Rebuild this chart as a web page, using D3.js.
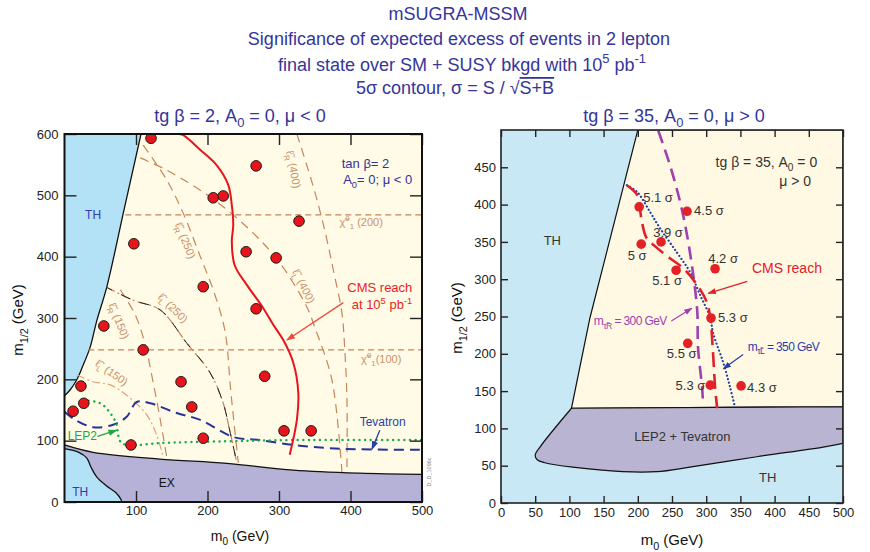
<!DOCTYPE html>
<html><head><meta charset="utf-8">
<script src="https://cdn.jsdelivr.net/npm/d3@7"></script>
<style>
body{margin:0;background:#fff}
text{font-family:"Liberation Sans",Arial,Helvetica,sans-serif}
</style>
</head><body>
<svg id="chart" width="870" height="552"></svg>
<script>
// ---------- data: left panel (tan beta = 2, A0 = 0, mu < 0) ----------
const leftXTicks = [100, 200, 300, 400, 500];
const leftYTicks = [0, 100, 200, 300, 400, 500, 600];
const leftDots = [[121,593],[268,548],[208,496],[222,499],[328,458],[97,421],[254,408],[296,398],
  [194,351],[268,315],[55,287],[110,248],[280,205],[163,196],[23,189],[178,155],[27,161],[12,148],
  [307,116],[345,116],[194,104],[93,93]];
const leftTHBoundary = [[107,600],[83,475],[59,350],[45,295],[36,253],[25,220],[17,199],[8,183],[0,173]];
const leftEXTop = [[0,93],[40,81],[133,70],[227,63],[320,52],[413,47],[500,45]];
const leftTHBottom = [[0,87],[20,81],[31,72],[37,57],[45,41],[58,27],[72,15],[79,4],[80,0]];
const cmsReachLeft = [[159,600],[166,598],[190,574],[213,549],[229,517],[234,484],[236,452],[234,424],
  [238,386],[255,354],[278,316],[292,289],[306,264],[320,227],[327,178],[325,134],[315,77]];
const tevatron = [[0,147],[15,134],[40,122],[68,126],[87,139],[101,163],[120,161],[157,145],[190,134],
  [236,106],[273,101],[320,93],[367,88],[413,86],[500,85]];
const lep2 = [[26,166],[50,161],[64,145],[73,126],[75,109],[80,96],[99,93],[134,96],[227,99],[320,101],[500,101]];
const chi200 = [[85,468],[500,468]];
const chi100 = [[33,248],[500,248]];
const slepR400 = [[325,600],[348,514],[364,443],[376,378],[388,308],[392,248],[395,171],[395,49]];
const slepL400 = [[106,561],[143,541],[204,497],[259,444],[301,390],[339,318],[350,285],[374,199],[388,49]];
const slepR250 = [[110,582],[143,525],[166,471],[190,400],[208,346],[222,292],[227,259],[232,188],[243,64]];
const slepR150 = [[78,346],[99,305],[113,256],[122,207],[134,134],[143,73]];
const slepL250 = [[59,350],[96,329],[134,313],[171,259],[204,210],[222,161],[231,117],[241,64]];
const slepL150 = [[18,207],[40,196],[64,191],[87,174],[115,142],[129,109],[138,73]];

// ---------- data: right panel (tan beta = 35, A0 = 0, mu > 0) ----------
const rightXTicks = [0, 50, 100, 150, 200, 250, 300, 350, 400, 450, 500];
const rightYTicks = [0, 50, 100, 150, 200, 250, 300, 350, 400, 450];
const rightDots = [[202,397],[272,391],[205,347],[234,350],[256,312],[313,314],[307,248],[273,214],[306,158],[351,157]];
const rightSignif = ["5.1","4.5","5","3.9","5.1","4.2","5.3","5.5","5.3","4.3"];
const rightAllowed = [[200,500],[130,248],[103,127],[500,129],[500,500]];
const lepTevBottom = [[500,80],[471,75],[374,62],[276,48],[228,42],[178,42],[105,48],[64,54],[53,58],[50,64],[57,75],[103,127]];
const stauR300 = [[230,499],[247,453],[262,403],[272,359],[281,306],[287,256],[288,209],[294,155],[295,140]];
const stauL350 = [[184,426],[199,417],[218,390],[232,369],[257,336],[276,310],[291,279],[306,248],[310,228],[325,188],[335,155],[342,129]];
const cmsReachRight = [[184,426],[199,413],[203,395],[206,377],[213,355],[228,342],[247,328],[266,315],[287,292],
  [301,269],[306,248],[310,201],[313,155],[316,127]];

// label placement for the significance values (pixel offsets from each dot)
const signifOffsets = [[4,-5,"start"],[7,4,"start"],[-4,16,"middle"],[7,-5,"middle"],[-9,15,"middle"],
  [8,-6,"middle"],[7,4,"start"],[-6,15,"middle"],[-5,5,"end"],[6,6,"start"]];

const svg = d3.select("#chart");
const TITLE = "#35359b";
const BROWN = "#c8845a";
const BROWN_TXT = "#c9916c";

// rich text helper: parts are strings or [text, "sup"|"sub"]
function rich(parent, x, y, parts, size, fill, anchor) {
  const t = parent.append("text").attr("x", x).attr("y", y).attr("font-size", size)
    .attr("fill", fill).attr("text-anchor", anchor || "middle");
  let cur = 0;
  parts.forEach(p => {
    const [s, mode] = Array.isArray(p) ? p : [p, "n"];
    const target = mode === "sup" ? -0.42 * size : mode === "sub" ? 0.3 * size : 0;
    const ts = t.append("tspan").text(s).attr("dy", target - cur);
    if (mode !== "n") ts.attr("font-size", size * 0.72);
    cur = target;
  });
  return t;
}

const defs = svg.append("defs");
function marker(id, color) {
  defs.append("marker").attr("id", id).attr("viewBox", "0 0 10 10").attr("refX", 9).attr("refY", 5)
    .attr("markerWidth", 7).attr("markerHeight", 7).attr("orient", "auto-start-reverse")
    .append("path").attr("d", "M0,1.5 L10,5 L0,8.5 Z").attr("fill", color);
}
marker("arRed", "#ee4a3a");
marker("arBlue", "#2b3ea8");
marker("arGreen", "#1aa84a");
marker("arPurple", "#a040b0");
marker("arRed2", "#e0202a");

// ---------- titles ----------
svg.append("text").attr("x", 458).attr("y", 20).attr("text-anchor", "middle").attr("font-size", 18)
  .attr("fill", TITLE).text("mSUGRA-MSSM");
svg.append("text").attr("x", 459).attr("y", 45).attr("text-anchor", "middle").attr("font-size", 18)
  .attr("fill", TITLE).text("Significance of expected excess of events in 2 lepton");
rich(svg, 462, 71, ["final state over SM + SUSY bkgd with 10", ["5","sup"], " pb", ["-1","sup"]], 18, TITLE);
const t4 = svg.append("text").attr("x", 455).attr("y", 94).attr("text-anchor", "middle")
  .attr("font-size", 18).attr("fill", TITLE);
t4.append("tspan").text("5σ contour, σ = S / √");
t4.append("tspan").text("S+B").style("text-decoration", "overline");

rich(svg, 240, 122, ["tg β = 2, A", ["0","sub"], " = 0, μ < 0"], 18, TITLE);
rich(svg, 674, 122, ["tg β = 35, A", ["0","sub"], " = 0, μ > 0"], 18, TITLE);

// ================= LEFT PANEL =================
const xL = d3.scaleLinear([0, 500], [64.5, 422]);
const yL = d3.scaleLinear([0, 600], [502, 134]);
const gL = svg.append("g");
defs.append("clipPath").attr("id", "clipL").append("rect")
  .attr("x", xL(0)).attr("y", yL(600)).attr("width", xL(500) - xL(0)).attr("height", yL(0) - yL(600));
const pL = gL.append("g").attr("clip-path", "url(#clipL)");
const lineL = d3.line().curve(d3.curveCatmullRom.alpha(0.5)).x(d => xL(d[0])).y(d => yL(d[1]));
const straightL = d3.line().x(d => xL(d[0])).y(d => yL(d[1]));

pL.append("rect").attr("x", xL(0)).attr("y", yL(600)).attr("width", xL(500) - xL(0))
  .attr("height", yL(0) - yL(600)).attr("fill", "#fffbe6");
// theoretically excluded region, upper left
pL.append("path").attr("d", lineL(leftTHBoundary) + `L${xL(0)},${yL(600)}Z`)
  .attr("fill", "#b3e1f6").attr("stroke", "none");
pL.append("path").attr("d", lineL(leftTHBoundary)).attr("fill", "none").attr("stroke", "#111").attr("stroke-width", 1.3);
// experimentally excluded band
pL.append("path").attr("d", lineL(leftEXTop) + `L${xL(500)},${yL(0)}L${xL(0)},${yL(0)}Z`)
  .attr("fill", "#b6b2d7");
pL.append("path").attr("d", lineL(leftEXTop)).attr("fill", "none").attr("stroke", "#111").attr("stroke-width", 1.3);
// theoretically excluded region, lower left
pL.append("path").attr("d", lineL(leftTHBottom) + `L${xL(0)},${yL(0)}Z`).attr("fill", "#b3e1f6");
pL.append("path").attr("d", lineL(leftTHBottom)).attr("fill", "none").attr("stroke", "#111").attr("stroke-width", 1.3);

// iso-mass contours
[chi200, chi100].forEach(d => pL.append("path").attr("d", straightL(d)).attr("fill", "none")
  .attr("stroke", BROWN).attr("stroke-width", 1.3).attr("stroke-dasharray", "6,4"));
[slepR400, slepL400, slepR250, slepR150].forEach(d => pL.append("path").attr("d", lineL(d))
  .attr("fill", "none").attr("stroke", BROWN).attr("stroke-width", 1.2).attr("stroke-dasharray", "9,6"));
pL.append("path").attr("d", lineL(slepL250)).attr("fill", "none").attr("stroke", BROWN)
  .attr("stroke-width", 1.2).attr("stroke-dasharray", "9,3,2,3");
pL.append("path").attr("d", lineL(slepL250)).attr("fill", "none").attr("stroke", "#222")
  .attr("stroke-width", 1).attr("stroke-dasharray", "10,10").attr("stroke-dashoffset", 4);
pL.append("path").attr("d", lineL(slepL150)).attr("fill", "none").attr("stroke", "#e0a07a")
  .attr("stroke-width", 1.2).attr("stroke-dasharray", "8,3,2,3");

// Tevatron and LEP2 limits
pL.append("path").attr("d", lineL(tevatron)).attr("fill", "none").attr("stroke", "#27329a")
  .attr("stroke-width", 2).attr("stroke-dasharray", "10,6");
pL.append("path").attr("d", lineL(lep2)).attr("fill", "none").attr("stroke", "#1bab4c")
  .attr("stroke-width", 2.4).attr("stroke-dasharray", "0.1,5.5").attr("stroke-linecap", "round");

// CMS 5 sigma reach
pL.append("path").attr("d", lineL(cmsReachLeft)).attr("fill", "none").attr("stroke", "#e8141c")
  .attr("stroke-width", 2);

// simulated points
pL.selectAll("circle.pt").data(leftDots).join("circle").attr("class", "pt")
  .attr("cx", d => xL(d[0])).attr("cy", d => yL(d[1])).attr("r", 5.3)
  .attr("fill", "#e8141c").attr("stroke", "#1a1a1a").attr("stroke-width", 1);

// contour labels
function rotLabel(parent, x, y, angle, parts, size, fill) {
  const g = parent.append("g").attr("transform", `translate(${x},${y}) rotate(${angle})`);
  rich(g, 0, 0, parts, size, fill);
}
rotLabel(pL, xL(315), yL(541), 79, ["ℓ̃", ["R","sub"], " (400)"], 11, BROWN_TXT);
rotLabel(pL, xL(330), yL(349), 63, ["ℓ̃", ["L","sub"], " (400)"], 11, BROWN_TXT);
rotLabel(pL, xL(164), yL(424), 68, ["ℓ̃", ["R","sub"], " (250)"], 11, BROWN_TXT);
rotLabel(pL, xL(148), yL(312), 45, ["ℓ̃", ["L","sub"], " (250)"], 11, BROWN_TXT);
rotLabel(pL, xL(71), yL(293), 68, ["ℓ̃", ["R","sub"], " (150)"], 11, BROWN_TXT);
rotLabel(pL, xL(63), yL(206), 35, ["ℓ̃", ["L","sub"], " (150)"], 11, BROWN_TXT);
rich(pL, xL(415), yL(450), ["χ̃", ["0","sup"], ["1","sub"], " (200)"], 11, BROWN_TXT);
rich(pL, xL(443), yL(227), ["χ̃", ["0","sup"], ["1","sub"], "(100)"], 11, BROWN_TXT);

pL.append("text").attr("x", xL(421)).attr("y", yL(545)).attr("text-anchor", "middle")
  .attr("font-size", 13).attr("fill", "#33339a").text("tan β= 2");
rich(pL, xL(438), yL(518), ["A", ["0","sub"], "= 0; μ < 0"], 13, "#33339a");
pL.append("text").attr("x", xL(40)).attr("y", yL(462)).attr("text-anchor", "middle")
  .attr("font-size", 12).attr("fill", "#3a3aa8").text("TH");
pL.append("text").attr("x", xL(22)).attr("y", yL(9)).attr("text-anchor", "middle")
  .attr("font-size", 12).attr("fill", "#3a3aa8").text("TH");
pL.append("text").attr("x", xL(143)).attr("y", yL(25)).attr("text-anchor", "middle")
  .attr("font-size", 12).attr("fill", "#111").text("EX");

pL.append("text").attr("x", xL(441)).attr("y", yL(343)).attr("text-anchor", "middle")
  .attr("font-size", 13).attr("fill", "#ee2222").text("CMS reach");
rich(pL, xL(444), yL(314), ["at 10", ["5","sup"], " pb", ["-1","sup"]], 13, "#ee2222");
pL.append("line").attr("x1", xL(390)).attr("y1", yL(325)).attr("x2", xL(311)).attr("y2", yL(264))
  .attr("stroke", "#ee4a3a").attr("stroke-width", 1.3).attr("marker-end", "url(#arRed)");

pL.append("text").attr("x", xL(445)).attr("y", yL(124)).attr("text-anchor", "middle")
  .attr("font-size", 12).attr("fill", "#2b3ea8").text("Tevatron");
pL.append("line").attr("x1", xL(441)).attr("y1", yL(117)).attr("x2", xL(430)).attr("y2", yL(86))
  .attr("stroke", "#2b3ea8").attr("stroke-width", 1.3).attr("marker-end", "url(#arBlue)");
pL.append("text").attr("x", xL(25)).attr("y", yL(101)).attr("text-anchor", "middle")
  .attr("font-size", 12).attr("fill", "#1aa84a").text("LEP2");
pL.append("line").attr("x1", xL(46)).attr("y1", yL(107)).attr("x2", xL(73)).attr("y2", yL(117))
  .attr("stroke", "#1aa84a").attr("stroke-width", 1.3).attr("marker-end", "url(#arGreen)");

// axes and frame
function styleAxis(g, size) {
  g.select(".domain").remove();
  g.selectAll(".tick line").attr("stroke", "#222").attr("stroke-width", 1.4);
  g.selectAll(".tick text").attr("font-size", size).attr("fill", "#222")
    .attr("font-family", '"Liberation Sans",Arial,sans-serif');
}
gL.append("g").attr("transform", `translate(0,${yL(0)})`)
  .call(d3.axisBottom(xL).tickValues(leftXTicks).tickSize(-11).tickPadding(4)).call(g => styleAxis(g, 13));
gL.append("g").attr("transform", `translate(0,${yL(600)})`)
  .call(d3.axisTop(xL).tickValues(leftXTicks).tickSize(-11).tickFormat("")).call(g => styleAxis(g, 13));
gL.append("g").attr("transform", `translate(${xL(0)},0)`)
  .call(d3.axisLeft(yL).tickValues(leftYTicks).tickSize(-12).tickPadding(6)).call(g => styleAxis(g, 13));
gL.append("g").attr("transform", `translate(${xL(500)},0)`)
  .call(d3.axisRight(yL).tickValues(leftYTicks).tickSize(-12).tickFormat("")).call(g => styleAxis(g, 13));
gL.append("rect").attr("x", xL(0)).attr("y", yL(600)).attr("width", xL(500) - xL(0))
  .attr("height", yL(0) - yL(600)).attr("fill", "none").attr("stroke", "#111").attr("stroke-width", 2);

rich(svg, 240, 541, ["m", ["0","sub"], " (GeV)"], 14, "#111");
const ylL = svg.append("g").attr("transform", "translate(23,320) rotate(-90)");
rich(ylL, 0, 0, ["m", ["1/2","sub"], " (GeV)"], 15, "#111");
svg.append("text").attr("transform", "translate(431,472) rotate(-90)").attr("text-anchor", "middle")
  .attr("font-size", 5.5).attr("fill", "#888").text("D_D_1096c");

// ================= RIGHT PANEL =================
const xR = d3.scaleLinear([0, 500], [501, 843]);
const yR = d3.scaleLinear([0, 500], [503, 130]);
const gR = svg.append("g");
defs.append("clipPath").attr("id", "clipR").append("rect")
  .attr("x", xR(0)).attr("y", yR(500)).attr("width", xR(500) - xR(0)).attr("height", yR(0) - yR(500));
const pR = gR.append("g").attr("clip-path", "url(#clipR)");
const lineR = d3.line().curve(d3.curveCatmullRom.alpha(0.5)).x(d => xR(d[0])).y(d => yR(d[1]));
const straightR = d3.line().x(d => xR(d[0])).y(d => yR(d[1]));

pR.append("rect").attr("x", xR(0)).attr("y", yR(500)).attr("width", xR(500) - xR(0))
  .attr("height", yR(0) - yR(500)).attr("fill", "#c9e8f6");
pR.append("path").attr("d", straightR(rightAllowed) + "Z").attr("fill", "#fff9e3")
  .attr("stroke", "#111").attr("stroke-width", 1.2);
pR.append("path").attr("d", `M${xR(103)},${yR(127)}L${xR(500)},${yR(129)}` + lineR(lepTevBottom).replace(/^M/, "L") + "Z")
  .attr("fill", "#b9b4d1").attr("stroke", "#111").attr("stroke-width", 1.2);

pR.append("path").attr("d", lineR(stauR300)).attr("fill", "none").attr("stroke", "#a040b0")
  .attr("stroke-width", 2.6).attr("stroke-dasharray", "13,7");
pR.append("path").attr("d", lineR(stauL350)).attr("fill", "none").attr("stroke", "#2040a8")
  .attr("stroke-width", 2.2).attr("stroke-dasharray", "0.1,3.6").attr("stroke-linecap", "round");
pR.append("path").attr("d", lineR(cmsReachRight)).attr("fill", "none").attr("stroke", "#e0202a")
  .attr("stroke-width", 2.6).attr("stroke-dasharray", "15,7");

pR.selectAll("circle.pt").data(rightDots).join("circle").attr("class", "pt")
  .attr("cx", d => xR(d[0])).attr("cy", d => yR(d[1])).attr("r", 4.8).attr("fill", "#e32228");
pR.selectAll("text.sig").data(rightDots).join("text").attr("class", "sig")
  .attr("x", (d, i) => xR(d[0]) + signifOffsets[i][0]).attr("y", (d, i) => yR(d[1]) + signifOffsets[i][1])
  .attr("text-anchor", (d, i) => signifOffsets[i][2]).attr("font-size", 13).attr("fill", "#333")
  .text((d, i) => rightSignif[i] + " σ");

rich(pR, xR(388), yR(451), ["tg β = 35, A", ["0","sub"], " = 0"], 14, "#333");
pR.append("text").attr("x", xR(430)).attr("y", yR(425)).attr("text-anchor", "middle")
  .attr("font-size", 14).attr("fill", "#333").text("μ > 0");
pR.append("text").attr("x", xR(75)).attr("y", yR(346)).attr("text-anchor", "middle")
  .attr("font-size", 13).attr("fill", "#333").text("TH");
pR.append("text").attr("x", xR(390)).attr("y", yR(28)).attr("text-anchor", "middle")
  .attr("font-size", 13).attr("fill", "#333").text("TH");
pR.append("text").attr("x", xR(265)).attr("y", yR(83)).attr("text-anchor", "middle")
  .attr("font-size", 13).attr("fill", "#333").text("LEP2 + Tevatron");

pR.append("text").attr("x", xR(418)).attr("y", yR(308)).attr("text-anchor", "middle")
  .attr("font-size", 14).attr("fill", "#e0202a").text("CMS reach");
pR.append("line").attr("x1", xR(360)).attr("y1", yR(297)).attr("x2", xR(303)).attr("y2", yR(281))
  .attr("stroke", "#e0202a").attr("stroke-width", 1.2).attr("marker-end", "url(#arRed2)");

rich(pR, xR(189), yR(238), ["m", ["τ̃","sub"], ["R","sub"], " = 300 GeV"], 12, "#a040b0")
  .attr("letter-spacing", -0.6);
pR.append("line").attr("x1", xR(249)).attr("y1", yR(244)).attr("x2", xR(279)).attr("y2", yR(261))
  .attr("stroke", "#a040b0").attr("stroke-width", 1.2).attr("marker-end", "url(#arPurple)");
rich(pR, xR(413), yR(204), ["m", ["τ̃","sub"], ["L","sub"], " = 350 GeV"], 12, "#2b3ea8")
  .attr("letter-spacing", -0.6);
pR.append("line").attr("x1", xR(354)).attr("y1", yR(199)).attr("x2", xR(325)).attr("y2", yR(180))
  .attr("stroke", "#2b3ea8").attr("stroke-width", 1.2).attr("marker-end", "url(#arBlue)");

gR.append("g").attr("transform", `translate(0,${yR(0)})`)
  .call(d3.axisBottom(xR).tickValues(rightXTicks).tickSize(-7).tickPadding(5)).call(g => styleAxis(g, 13));
gR.append("g").attr("transform", `translate(0,${yR(500)})`)
  .call(d3.axisTop(xR).tickValues(rightXTicks).tickSize(-7).tickFormat("")).call(g => styleAxis(g, 13));
gR.append("g").attr("transform", `translate(${xR(0)},0)`)
  .call(d3.axisLeft(yR).tickValues(rightYTicks).tickSize(-7).tickPadding(5)).call(g => styleAxis(g, 13));
gR.append("g").attr("transform", `translate(${xR(500)},0)`)
  .call(d3.axisRight(yR).tickValues(rightYTicks).tickSize(-7).tickFormat("")).call(g => styleAxis(g, 13));
gR.append("rect").attr("x", xR(0)).attr("y", yR(500)).attr("width", xR(500) - xR(0))
  .attr("height", yR(0) - yR(500)).attr("fill", "none").attr("stroke", "#222").attr("stroke-width", 1.6);

rich(svg, 672, 545, ["m", ["0","sub"], " (GeV)"], 15, "#111");
const ylR = svg.append("g").attr("transform", "translate(462,318) rotate(-90)");
rich(ylR, 0, 0, ["m", ["1/2","sub"], " (GeV)"], 15, "#111");
</script>
</body></html>
